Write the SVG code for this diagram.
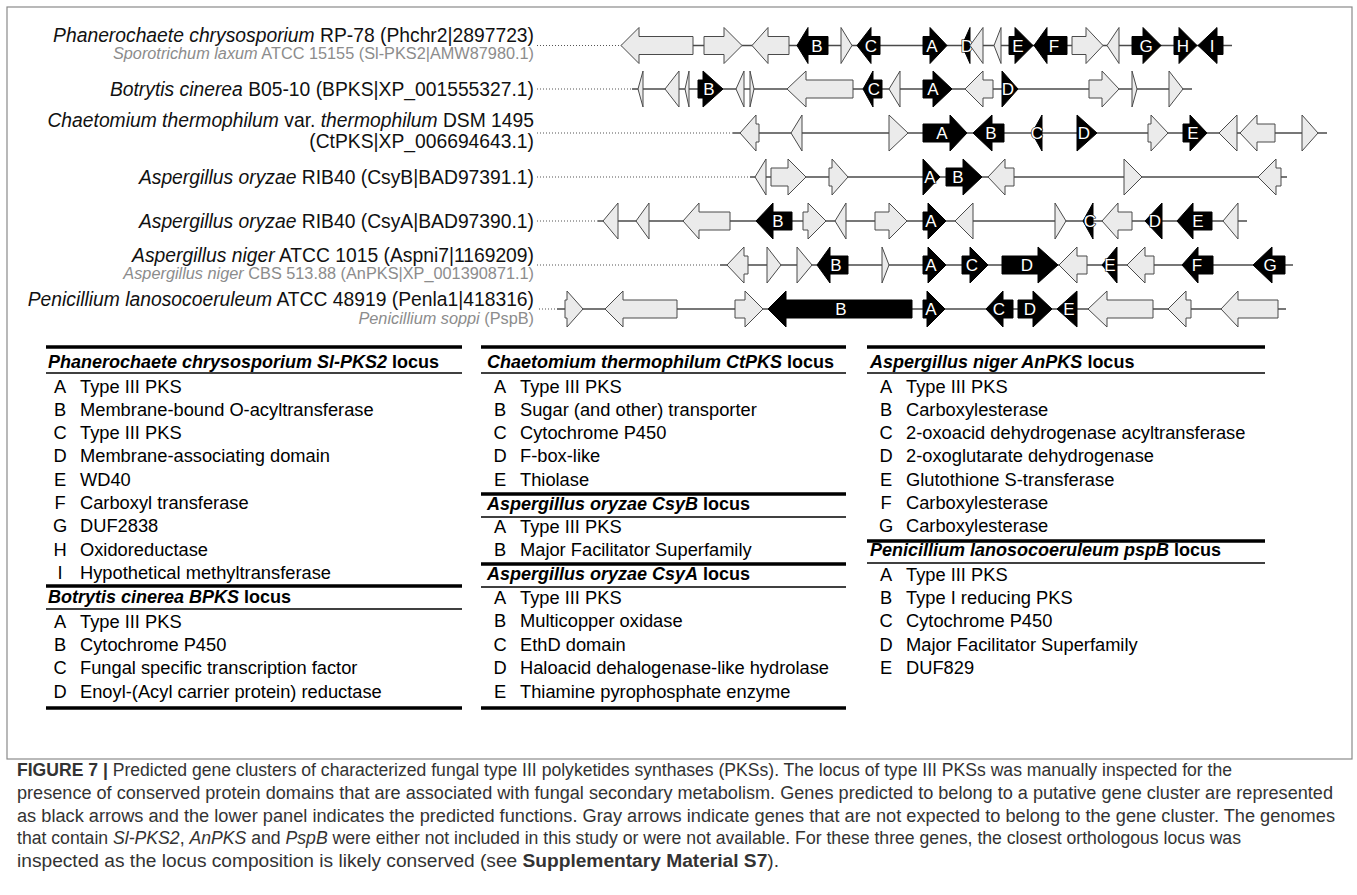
<svg xmlns="http://www.w3.org/2000/svg" width="1357" height="895" viewBox="0 0 1357 895">
<style>
.g{fill:#ebebeb;stroke:#4a4a4a;stroke-width:1;stroke-linejoin:miter}
.k{fill:#000;stroke:#000;stroke-width:1}
.bb{stroke:#4a4a4a;stroke-width:1.4;fill:none}
.dot{stroke:#555;stroke-width:1.2;stroke-dasharray:1 2;fill:none}
.lab{font-family:"Liberation Sans",Arial,sans-serif;font-size:17px;fill:#fff;stroke:#000;stroke-width:1.2;paint-order:stroke;text-anchor:middle}
.sp{font-family:"Liberation Sans",Arial,sans-serif;font-size:19.3px;fill:#111;text-anchor:end}
.sg{font-family:"Liberation Sans",Arial,sans-serif;font-size:16.3px;fill:#8c8c8c;text-anchor:end}
.i{font-style:italic}
.thick{stroke:#000;stroke-width:3.5}
.thin{stroke:#000;stroke-width:1.4}
.th{font-family:"Liberation Sans Narrow","Liberation Sans",Arial,sans-serif;font-size:18px;font-weight:bold;fill:#000}
.td{font-family:"Liberation Sans Narrow","Liberation Sans",Arial,sans-serif;font-size:18.3px;fill:#000}
.cap{font-family:"Liberation Sans Narrow","Liberation Sans",Arial,sans-serif;font-size:17.6px;fill:#333}
</style>
<rect x="7" y="7" width="1345" height="752" fill="#fff" stroke="#8a8a8a" stroke-width="1.2"/>

<g id="connectors">
<line class="dot" x1="537" y1="45.5" x2="621" y2="45.5"/><line class="bb" x1="621" y1="45.5" x2="1232" y2="45.5"/>
<line class="dot" x1="537" y1="89" x2="632" y2="89"/><line class="bb" x1="632" y1="89" x2="1192" y2="89"/>
<line class="dot" x1="537" y1="133" x2="733" y2="133"/><line class="bb" x1="733" y1="133" x2="1327" y2="133"/>
<line class="dot" x1="537" y1="177" x2="750" y2="177"/><line class="bb" x1="750" y1="177" x2="1287" y2="177"/>
<line class="dot" x1="537" y1="221" x2="598" y2="221"/><line class="bb" x1="598" y1="221" x2="1247" y2="221"/>
<line class="dot" x1="537" y1="265" x2="720" y2="265"/><line class="bb" x1="720" y1="265" x2="1293" y2="265"/>
<line class="dot" x1="539" y1="309" x2="557" y2="309"/><line class="bb" x1="557" y1="309" x2="1286" y2="309"/>
</g>

<g id="row1">
<text class="sp" x="534" y="41.5"><tspan class="i">Phanerochaete chrysosporium</tspan> RP-78 (Phchr2|2897723)</text>
<text class="sg" x="534" y="59"><tspan class="i">Sporotrichum laxum</tspan> ATCC 15155 (Sl-PKS2|AMW87980.1)</text>
<g transform="translate(0,45.5)">
<polygon class="g" points="621,0 639,-18 639,-9 693,-9 693,9 639,9 639,18"/>
<polygon class="g" points="704,-9 724,-9 724,-18 742,0 724,18 724,9 704,9"/>
<polygon class="g" points="752,0 768,-18 768,-9 789,-9 789,9 768,9 768,18"/>
<polygon class="k" points="797,0 808,-18 808,-9 828,-9 828,9 808,9 808,18"/><text class="lab" x="817" y="6">B</text>
<polygon class="g" points="841,-18 852,0 841,18"/>
<polygon class="k" points="857,0 871,-18 871,-9 880,-9 880,9 871,9 871,18"/><text class="lab" x="871" y="6">C</text>
<polygon class="k" points="923,-9 930,-9 930,-18 947,0 930,18 930,9 923,9"/><text class="lab" x="932" y="6">A</text>
<polygon class="k" points="962,0 970,-18 970,18"/><text class="lab" x="967" y="6">D</text>
<polygon class="g" points="970,0 983,-18 983,18"/>
<polygon class="g" points="994,0 1001,-18 1001,18"/>
<polygon class="k" points="1009,-9 1015,-9 1015,-18 1033,0 1015,18 1015,9 1009,9"/><text class="lab" x="1018" y="6">E</text>
<polygon class="k" points="1034,0 1047,-18 1047,-9 1067,-9 1067,9 1047,9 1047,18"/><text class="lab" x="1054" y="6">F</text>
<polygon class="g" points="1072,-9 1086,-9 1086,-18 1103,0 1086,18 1086,9 1072,9"/>
<polygon class="g" points="1107,0 1119,-18 1119,18"/>
<polygon class="k" points="1132,-9 1143,-9 1143,-18 1161,0 1143,18 1143,9 1132,9"/><text class="lab" x="1146" y="6">G</text>
<polygon class="k" points="1174,-9 1179,-9 1179,-18 1197,0 1179,18 1179,9 1174,9"/><text class="lab" x="1183" y="6">H</text>
<polygon class="k" points="1198,0 1217,-18 1217,-9 1223,-9 1223,9 1217,9 1217,18"/><text class="lab" x="1212" y="6">I</text>
</g>
</g>

<g id="row2">
<text class="sp" x="534" y="95.5"><tspan class="i">Botrytis cinerea</tspan> B05-10 (BPKS|XP_001555327.1)</text>
<g transform="translate(0,89)">
<polygon class="g" points="638,0 643,-18 643,18"/>
<polygon class="g" points="665,0 679,-18 679,18"/>
<polygon class="g" points="685,0 689,-18 689,18"/>
<polygon class="k" points="698,-9 703,-9 703,-18 723,0 703,18 703,9 698,9"/><text class="lab" x="709" y="6">B</text>
<polygon class="g" points="736,0 744,-18 744,18"/>
<polygon class="g" points="750,-18 754,0 750,18"/>
<polygon class="g" points="787,0 806,-18 806,-9 853,-9 853,9 806,9 806,18"/>
<polygon class="k" points="863,0 873,-18 873,-9 882,-9 882,9 873,9 873,18"/><text class="lab" x="874" y="6">C</text>
<polygon class="g" points="889,0 900,-18 900,18"/>
<polygon class="k" points="923,-9 933,-9 933,-18 952,0 933,18 933,9 923,9"/><text class="lab" x="933" y="6">A</text>
<polygon class="g" points="965,0 983,-18 983,-9 993,-9 993,9 983,9 983,18"/>
<polygon class="k" points="1002,-18 1018,0 1002,18"/><text class="lab" x="1008" y="6">D</text>
<polygon class="g" points="1089,-9 1102,-9 1102,-18 1119,0 1102,18 1102,9 1089,9"/>
<polygon class="g" points="1132,-18 1137,0 1132,18"/>
<polygon class="g" points="1169,-18 1183,0 1169,18"/>
</g>
</g>

<g id="row3">
<text class="sp" x="534" y="126.5"><tspan class="i">Chaetomium thermophilum</tspan> var. <tspan class="i">thermophilum</tspan> DSM 1495</text>
<text class="sp" x="534" y="148">(CtPKS|XP_006694643.1)</text>
<g transform="translate(0,133)">
<polygon class="g" points="740,0 756,-18 756,-9 759,-9 759,9 756,9 756,18"/>
<polygon class="g" points="791,0 802,-18 802,18"/>
<polygon class="g" points="889,-18 908,0 889,18"/>
<polygon class="k" points="923,-9 950,-9 950,-18 967,0 950,18 950,9 923,9"/><text class="lab" x="942" y="6">A</text>
<polygon class="k" points="973,0 992,-18 992,-9 1004,-9 1004,9 992,9 992,18"/><text class="lab" x="991" y="6">B</text>
<polygon class="k" points="1032,0 1042,-18 1042,18"/><text class="lab" x="1037" y="6">C</text>
<polygon class="k" points="1077,-18 1097,0 1077,18"/><text class="lab" x="1084" y="6">D</text>
<polygon class="g" points="1148,-9 1151,-9 1151,-18 1168,0 1151,18 1151,9 1148,9"/>
<polygon class="k" points="1183,-9 1190,-9 1190,-18 1207,0 1190,18 1190,9 1183,9"/><text class="lab" x="1193" y="6">E</text>
<polygon class="g" points="1219,0 1237,-18 1237,18"/>
<polygon class="g" points="1240,0 1257,-18 1257,-9 1275,-9 1275,9 1257,9 1257,18"/>
<polygon class="g" points="1302,-18 1318,0 1302,18"/>
</g>
</g>

<g id="row4">
<text class="sp" x="534" y="184"><tspan class="i">Aspergillus oryzae</tspan> RIB40 (CsyB|BAD97391.1)</text>
<g transform="translate(0,177)">
<polygon class="g" points="755,0 766,-18 766,18"/>
<polygon class="g" points="771,-9 788,-9 788,-18 806,0 788,18 788,9 771,9"/>
<polygon class="g" points="829,-9 832,-9 832,-18 848,0 832,18 832,9 829,9"/>
<polygon class="k" points="923,-18 940,0 923,18"/><text class="lab" x="930" y="6">A</text>
<polygon class="k" points="946,-9 963,-9 963,-18 982,0 963,18 963,9 946,9"/><text class="lab" x="958" y="6">B</text>
<polygon class="g" points="988,0 1005,-18 1005,-9 1014,-9 1014,9 1005,9 1005,18"/>
<polygon class="g" points="1124,-18 1142,0 1124,18"/>
<polygon class="g" points="1258,0 1276,-18 1276,-9 1281,-9 1281,9 1276,9 1276,18"/>
</g>
</g>

<g id="row5">
<text class="sp" x="534" y="227.5"><tspan class="i">Aspergillus oryzae</tspan> RIB40 (CsyA|BAD97390.1)</text>
<g transform="translate(0,221)">
<polygon class="g" points="603,0 618,-18 618,18"/>
<polygon class="g" points="636,0 649,-18 649,18"/>
<polygon class="g" points="683,0 699,-18 699,-9 730,-9 730,9 699,9 699,18"/>
<polygon class="k" points="756,0 773,-18 773,-9 792,-9 792,9 773,9 773,18"/><text class="lab" x="778" y="6">B</text>
<polygon class="g" points="803,-9 808,-9 808,-18 826,0 808,18 808,9 803,9"/>
<polygon class="g" points="835,0 846,-18 846,18"/>
<polygon class="g" points="875,-9 889,-9 889,-18 907,0 889,18 889,9 875,9"/>
<polygon class="k" points="923,-9 928,-9 928,-18 946,0 928,18 928,9 923,9"/><text class="lab" x="931" y="6">A</text>
<polygon class="g" points="955,0 973,-18 973,18"/>
<polygon class="g" points="1055,-18 1066,0 1055,18"/>
<polygon class="k" points="1083,0 1093,-18 1093,18"/><text class="lab" x="1090" y="6">C</text>
<polygon class="g" points="1102,0 1118,-18 1118,-9 1132,-9 1132,9 1118,9 1118,18"/>
<polygon class="k" points="1145,0 1162,-18 1162,18"/><text class="lab" x="1155" y="6">D</text>
<polygon class="k" points="1177,0 1193,-18 1193,-9 1212,-9 1212,9 1193,9 1193,18"/><text class="lab" x="1198" y="6">E</text>
<polygon class="g" points="1223,0 1238,-18 1238,18"/>
</g>
</g>

<g id="row6">
<text class="sp" x="534" y="262"><tspan class="i">Aspergillus niger</tspan> ATCC 1015 (Aspni7|1169209)</text>
<text class="sg" x="534" y="279"><tspan class="i">Aspergillus niger</tspan> CBS 513.88 (AnPKS|XP_001390871.1)</text>
<g transform="translate(0,265)">
<polygon class="g" points="727,0 744,-18 744,-9 748,-9 748,9 744,9 744,18"/>
<polygon class="g" points="767,-18 781,0 767,18"/>
<polygon class="g" points="797,-18 812,0 797,18"/>
<polygon class="k" points="817,0 830,-18 830,-9 848,-9 848,9 830,9 830,18"/><text class="lab" x="836" y="6">B</text>
<polygon class="g" points="882,-18 889,0 882,18"/>
<polygon class="k" points="923,-9 928,-9 928,-18 946,0 928,18 928,9 923,9"/><text class="lab" x="931" y="6">A</text>
<polygon class="k" points="962,-9 970,-9 970,-18 988,0 970,18 970,9 962,9"/><text class="lab" x="972" y="6">C</text>
<polygon class="k" points="1002,-9 1038,-9 1038,-18 1058,0 1038,18 1038,9 1002,9"/><text class="lab" x="1027" y="6">D</text>
<polygon class="g" points="1059,0 1077,-18 1077,-9 1087,-9 1087,9 1077,9 1077,18"/>
<polygon class="k" points="1102,0 1117,-18 1117,18"/><text class="lab" x="1110" y="6">E</text>
<polygon class="g" points="1127,0 1145,-18 1145,-9 1154,-9 1154,9 1145,9 1145,18"/>
<polygon class="k" points="1182,0 1198,-18 1198,-9 1213,-9 1213,9 1198,9 1198,18"/><text class="lab" x="1197" y="6">F</text>
<polygon class="k" points="1253,0 1272,-18 1272,-9 1285,-9 1285,9 1272,9 1272,18"/><text class="lab" x="1270" y="6">G</text>
</g>
</g>

<g id="row7">
<text class="sp" x="534" y="306"><tspan class="i">Penicillium lanosocoeruleum</tspan> ATCC 48919 (Penla1|418316)</text>
<text class="sg" x="534" y="324"><tspan class="i">Penicillium soppi</tspan> (PspB)</text>
<g transform="translate(0,309)">
<polygon class="g" points="565,-9 567,-9 567,-18 583,0 567,18 567,9 565,9"/>
<polygon class="g" points="605,0 623,-18 623,-9 677,-9 677,9 623,9 623,18"/>
<polygon class="g" points="735,-9 745,-9 745,-18 763,0 745,18 745,9 735,9"/>
<polygon class="k" points="768,0 786,-18 786,-9 912,-9 912,9 786,9 786,18"/><text class="lab" x="841" y="6">B</text>
<polygon class="k" points="923,-9 927,-9 927,-18 945,0 927,18 927,9 923,9"/><text class="lab" x="931" y="6">A</text>
<polygon class="k" points="986,0 1003,-18 1003,-9 1013,-9 1013,9 1003,9 1003,18"/><text class="lab" x="999" y="6">C</text>
<polygon class="k" points="1018,-9 1033,-9 1033,-18 1052,0 1033,18 1033,9 1018,9"/><text class="lab" x="1030" y="6">D</text>
<polygon class="k" points="1057,0 1077,-18 1077,18"/><text class="lab" x="1069" y="6">E</text>
<polygon class="g" points="1088,0 1107,-18 1107,-9 1153,-9 1153,9 1107,9 1107,18"/>
<polygon class="g" points="1168,0 1186,-18 1186,-9 1191,-9 1191,9 1186,9 1186,18"/>
<polygon class="g" points="1221,0 1238,-18 1238,-9 1278,-9 1278,9 1238,9 1238,18"/>
</g>
</g>

<g id="table-col1">
<line class="thick" x1="46" y1="347" x2="462" y2="347"/>
<text class="th" x="48" y="368"><tspan class="i">Phanerochaete chrysosporium Sl-PKS2</tspan> locus</text>
<line class="thin" x1="46" y1="373" x2="462" y2="373"/>
<g class="td">
<text x="60" y="393" text-anchor="middle">A</text><text x="80" y="393">Type III PKS</text>
<text x="60" y="416" text-anchor="middle">B</text><text x="80" y="416">Membrane-bound O-acyltransferase</text>
<text x="60" y="439" text-anchor="middle">C</text><text x="80" y="439">Type III PKS</text>
<text x="60" y="462" text-anchor="middle">D</text><text x="80" y="462">Membrane-associating domain</text>
<text x="60" y="486" text-anchor="middle">E</text><text x="80" y="486">WD40</text>
<text x="60" y="509" text-anchor="middle">F</text><text x="80" y="509">Carboxyl transferase</text>
<text x="60" y="532" text-anchor="middle">G</text><text x="80" y="532">DUF2838</text>
<text x="60" y="556" text-anchor="middle">H</text><text x="80" y="556">Oxidoreductase</text>
<text x="60" y="579" text-anchor="middle">I</text><text x="80" y="579">Hypothetical methyltransferase</text>
</g>
<line class="thick" x1="46" y1="586" x2="462" y2="586"/>
<text class="th" x="48" y="603"><tspan class="i">Botrytis cinerea BPKS</tspan> locus</text>
<line class="thin" x1="46" y1="609" x2="462" y2="609"/>
<g class="td">
<text x="60" y="628" text-anchor="middle">A</text><text x="80" y="628">Type III PKS</text>
<text x="60" y="651" text-anchor="middle">B</text><text x="80" y="651">Cytochrome P450</text>
<text x="60" y="674" text-anchor="middle">C</text><text x="80" y="674">Fungal specific transcription factor</text>
<text x="60" y="698" text-anchor="middle">D</text><text x="80" y="698">Enoyl-(Acyl carrier protein) reductase</text>
</g>
<line class="thick" x1="46" y1="708" x2="462" y2="708"/>
</g>

<g id="table-col2">
<line class="thick" x1="481" y1="347" x2="846" y2="347"/>
<text class="th" x="487" y="368"><tspan class="i">Chaetomium thermophilum CtPKS</tspan> locus</text>
<line class="thin" x1="481" y1="373" x2="846" y2="373"/>
<g class="td">
<text x="500" y="393" text-anchor="middle">A</text><text x="520" y="393">Type III PKS</text>
<text x="500" y="416" text-anchor="middle">B</text><text x="520" y="416">Sugar (and other) transporter</text>
<text x="500" y="439" text-anchor="middle">C</text><text x="520" y="439">Cytochrome P450</text>
<text x="500" y="462" text-anchor="middle">D</text><text x="520" y="462">F-box-like</text>
<text x="500" y="486" text-anchor="middle">E</text><text x="520" y="486">Thiolase</text>
</g>
<line class="thick" x1="481" y1="494" x2="846" y2="494"/>
<text class="th" x="487" y="510"><tspan class="i">Aspergillus oryzae CsyB</tspan> locus</text>
<line class="thin" x1="481" y1="517" x2="846" y2="517"/>
<g class="td">
<text x="500" y="533" text-anchor="middle">A</text><text x="520" y="533">Type III PKS</text>
<text x="500" y="556" text-anchor="middle">B</text><text x="520" y="556">Major Facilitator Superfamily</text>
</g>
<line class="thick" x1="481" y1="564" x2="846" y2="564"/>
<text class="th" x="487" y="580"><tspan class="i">Aspergillus oryzae CsyA</tspan> locus</text>
<line class="thin" x1="481" y1="587" x2="846" y2="587"/>
<g class="td">
<text x="500" y="604" text-anchor="middle">A</text><text x="520" y="604">Type III PKS</text>
<text x="500" y="627" text-anchor="middle">B</text><text x="520" y="627">Multicopper oxidase</text>
<text x="500" y="651" text-anchor="middle">C</text><text x="520" y="651">EthD domain</text>
<text x="500" y="674" text-anchor="middle">D</text><text x="520" y="674">Haloacid dehalogenase-like hydrolase</text>
<text x="500" y="698" text-anchor="middle">E</text><text x="520" y="698">Thiamine pyrophosphate enzyme</text>
</g>
<line class="thick" x1="481" y1="708" x2="846" y2="708"/>
</g>

<g id="table-col3">
<line class="thick" x1="867" y1="347" x2="1265" y2="347"/>
<text class="th" x="870" y="368"><tspan class="i">Aspergillus niger AnPKS</tspan> locus</text>
<line class="thin" x1="867" y1="373" x2="1265" y2="373"/>
<g class="td">
<text x="886" y="393" text-anchor="middle">A</text><text x="906" y="393">Type III PKS</text>
<text x="886" y="416" text-anchor="middle">B</text><text x="906" y="416">Carboxylesterase</text>
<text x="886" y="439" text-anchor="middle">C</text><text x="906" y="439">2-oxoacid dehydrogenase acyltransferase</text>
<text x="886" y="462" text-anchor="middle">D</text><text x="906" y="462">2-oxoglutarate dehydrogenase</text>
<text x="886" y="486" text-anchor="middle">E</text><text x="906" y="486">Glutothione S-transferase</text>
<text x="886" y="509" text-anchor="middle">F</text><text x="906" y="509">Carboxylesterase</text>
<text x="886" y="532" text-anchor="middle">G</text><text x="906" y="532">Carboxylesterase</text>
</g>
<line class="thick" x1="867" y1="541" x2="1265" y2="541"/>
<text class="th" x="870" y="556"><tspan class="i">Penicillium lanosocoeruleum pspB</tspan> locus</text>
<line class="thin" x1="867" y1="563" x2="1265" y2="563"/>
<g class="td">
<text x="886" y="581" text-anchor="middle">A</text><text x="906" y="581">Type III PKS</text>
<text x="886" y="604" text-anchor="middle">B</text><text x="906" y="604">Type I reducing PKS</text>
<text x="886" y="627" text-anchor="middle">C</text><text x="906" y="627">Cytochrome P450</text>
<text x="886" y="651" text-anchor="middle">D</text><text x="906" y="651">Major Facilitator Superfamily</text>
<text x="886" y="674" text-anchor="middle">E</text><text x="906" y="674">DUF829</text>
</g>
</g>

<g id="caption" class="cap">
<text x="17" y="776" textLength="1215" lengthAdjust="spacingAndGlyphs"><tspan font-weight="bold">FIGURE 7 |</tspan> Predicted gene clusters of characterized fungal type III polyketides synthases (PKSs). The locus of type III PKSs was manually inspected for the</text>
<text x="17" y="799" textLength="1316" lengthAdjust="spacingAndGlyphs">presence of conserved protein domains that are associated with fungal secondary metabolism. Genes predicted to belong to a putative gene cluster are represented</text>
<text x="17" y="822" textLength="1318" lengthAdjust="spacingAndGlyphs">as black arrows and the lower panel indicates the predicted functions. Gray arrows indicate genes that are not expected to belong to the gene cluster. The genomes</text>
<text x="17" y="844" textLength="1224" lengthAdjust="spacingAndGlyphs">that contain <tspan class="i">Sl-PKS2</tspan>, <tspan class="i">AnPKS</tspan> and <tspan class="i">PspB</tspan> were either not included in this study or were not available. For these three genes, the closest orthologous locus was</text>
<text x="17" y="867" textLength="762" lengthAdjust="spacingAndGlyphs">inspected as the locus composition is likely conserved (see <tspan font-weight="bold">Supplementary Material S7</tspan>).</text>
</g>
</svg>
